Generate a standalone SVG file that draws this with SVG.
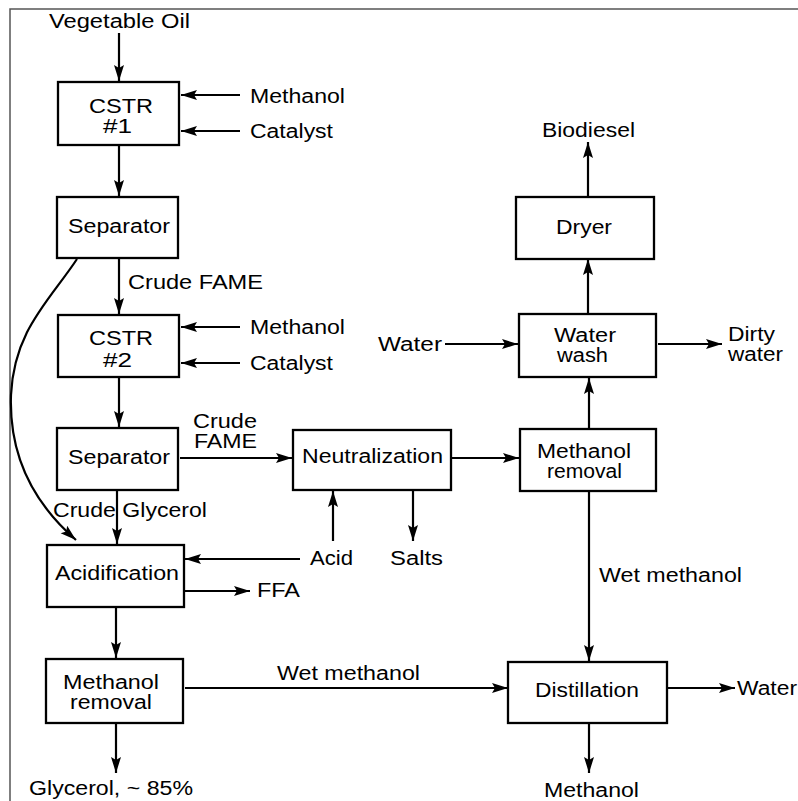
<svg xmlns="http://www.w3.org/2000/svg" width="798" height="801" viewBox="0 0 798 801">
<defs>
<style>
.box{fill:#fff;stroke:#000;stroke-width:2.3}
.c{fill:none;stroke:#000;stroke-width:2.2;marker-end:url(#ah)}
text{font-family:"Liberation Sans",Arial,sans-serif;font-size:20px;fill:#000}
.frame{fill:none;stroke:#555;stroke-width:1.5}
</style>
<marker id="ah" markerUnits="userSpaceOnUse" markerWidth="18" markerHeight="12" refX="16" refY="5" orient="auto">
<path d="M0,0 L16,5 L0,10 L3,5 z" fill="#000"/>
</marker>
</defs>
<rect width="798" height="801" fill="#fff"/>
<path class="frame" d="M10,801 L10,9 L798,9"/>

<g id="connectors">
<path class="c" d="M119,33 L119,81"/>
<path class="c" d="M240,95 L181,95"/>
<path class="c" d="M240,131 L181,131"/>
<path class="c" d="M119,145 L119,196"/>
<path class="c" d="M119,258 L119,314"/>
<path class="c" d="M240,327 L181,327"/>
<path class="c" d="M240,363 L181,363"/>
<path class="c" d="M119,377 L119,427"/>
<path class="c" d="M180,458 L292,458"/>
<path class="c" d="M452,458 L519,458"/>
<path class="c" d="M589,429 L589,378"/>
<path class="c" d="M445,344 L518,344"/>
<path class="c" d="M658,344 L722,344"/>
<path class="c" d="M588,313 L588,259"/>
<path class="c" d="M588,196 L588,142"/>
<path class="c" d="M117,490 L117,544"/>
<path class="c" d="M300,559 L185,559"/>
<path class="c" d="M333,541 L333,491"/>
<path class="c" d="M413,491 L413,541"/>
<path class="c" d="M185,591 L250,591"/>
<path class="c" d="M116,607 L116,658"/>
<path class="c" d="M185,688 L508,688"/>
<path class="c" d="M589,491 L589,661"/>
<path class="c" d="M668,688 L735,688"/>
<path class="c" d="M589,723 L589,773"/>
<path class="c" d="M116,723 L116,773"/>
<path class="c" d="M77,259 C50,300 14,330 11,395 C9,450 30,500 76,540" stroke-width="1.7"/>
</g>

<g id="labels">
<text x="49" y="28" textLength="141" lengthAdjust="spacingAndGlyphs">Vegetable Oil</text>
<text x="250" y="103" textLength="95" lengthAdjust="spacingAndGlyphs">Methanol</text>
<text x="250" y="138" textLength="83" lengthAdjust="spacingAndGlyphs">Catalyst</text>
<text x="128" y="289" textLength="135" lengthAdjust="spacingAndGlyphs">Crude FAME</text>
<text x="250" y="334" textLength="95" lengthAdjust="spacingAndGlyphs">Methanol</text>
<text x="250" y="370" textLength="83" lengthAdjust="spacingAndGlyphs">Catalyst</text>
<text x="193" y="428" textLength="64" lengthAdjust="spacingAndGlyphs">Crude</text>
<text x="194" y="448" textLength="63" lengthAdjust="spacingAndGlyphs">FAME</text>
<text x="53" y="517" textLength="154" lengthAdjust="spacingAndGlyphs">Crude Glycerol</text>
<text x="310" y="565" textLength="43" lengthAdjust="spacingAndGlyphs">Acid</text>
<text x="390" y="565" textLength="53" lengthAdjust="spacingAndGlyphs">Salts</text>
<text x="257" y="597" textLength="43" lengthAdjust="spacingAndGlyphs">FFA</text>
<text x="277" y="680" textLength="143" lengthAdjust="spacingAndGlyphs">Wet methanol</text>
<text x="29" y="795" textLength="164" lengthAdjust="spacingAndGlyphs">Glycerol, ~ 85%</text>
<text x="542" y="137" textLength="93" lengthAdjust="spacingAndGlyphs">Biodiesel</text>
<text x="378" y="351" textLength="64" lengthAdjust="spacingAndGlyphs">Water</text>
<text x="728" y="341" textLength="47" lengthAdjust="spacingAndGlyphs">Dirty</text>
<text x="728" y="361" textLength="55" lengthAdjust="spacingAndGlyphs">water</text>
<text x="599" y="582" textLength="143" lengthAdjust="spacingAndGlyphs">Wet methanol</text>
<text x="737" y="695" textLength="60" lengthAdjust="spacingAndGlyphs">Water</text>
<text x="544" y="797" textLength="95" lengthAdjust="spacingAndGlyphs">Methanol</text>
</g>

<g id="cstr1">
<rect class="box" x="58" y="82" width="121" height="63"/>
<text x="89" y="113" textLength="64" lengthAdjust="spacingAndGlyphs">CSTR</text>
<text x="103" y="133" textLength="29" lengthAdjust="spacingAndGlyphs">#1</text>
</g>
<g id="separator1">
<rect class="box" x="57" y="197" width="121" height="61"/>
<text x="68" y="233" textLength="102" lengthAdjust="spacingAndGlyphs">Separator</text>
</g>
<g id="cstr2">
<rect class="box" x="58" y="315" width="121" height="62"/>
<text x="89" y="345" textLength="64" lengthAdjust="spacingAndGlyphs">CSTR</text>
<text x="103" y="367" textLength="29" lengthAdjust="spacingAndGlyphs">#2</text>
</g>
<g id="separator2">
<rect class="box" x="57" y="428" width="121" height="62"/>
<text x="68" y="464" textLength="102" lengthAdjust="spacingAndGlyphs">Separator</text>
</g>
<g id="neutralization">
<rect class="box" x="293" y="430" width="158" height="60"/>
<text x="302" y="463" textLength="141" lengthAdjust="spacingAndGlyphs">Neutralization</text>
</g>
<g id="acidification">
<rect class="box" x="47" y="545" width="137" height="62"/>
<text x="55" y="580" textLength="124" lengthAdjust="spacingAndGlyphs">Acidification</text>
</g>
<g id="methanol-removal-1">
<rect class="box" x="46" y="659" width="137" height="64"/>
<text x="63" y="689" textLength="96" lengthAdjust="spacingAndGlyphs">Methanol</text>
<text x="70" y="709" textLength="82" lengthAdjust="spacingAndGlyphs">removal</text>
</g>
<g id="dryer">
<rect class="box" x="516" y="197" width="138" height="62"/>
<text x="556" y="234" textLength="56" lengthAdjust="spacingAndGlyphs">Dryer</text>
</g>
<g id="water-wash">
<rect class="box" x="519" y="314" width="137" height="63"/>
<text x="554" y="342" textLength="62" lengthAdjust="spacingAndGlyphs">Water</text>
<text x="557" y="362" textLength="51" lengthAdjust="spacingAndGlyphs">wash</text>
</g>
<g id="methanol-removal-2">
<rect class="box" x="520" y="429" width="136" height="62"/>
<text x="537" y="458" textLength="94" lengthAdjust="spacingAndGlyphs">Methanol</text>
<text x="547" y="478" textLength="75" lengthAdjust="spacingAndGlyphs">removal</text>
</g>
<g id="distillation">
<rect class="box" x="508" y="662" width="159" height="61"/>
<text x="535" y="697" textLength="104" lengthAdjust="spacingAndGlyphs">Distillation</text>
</g>
</svg>
